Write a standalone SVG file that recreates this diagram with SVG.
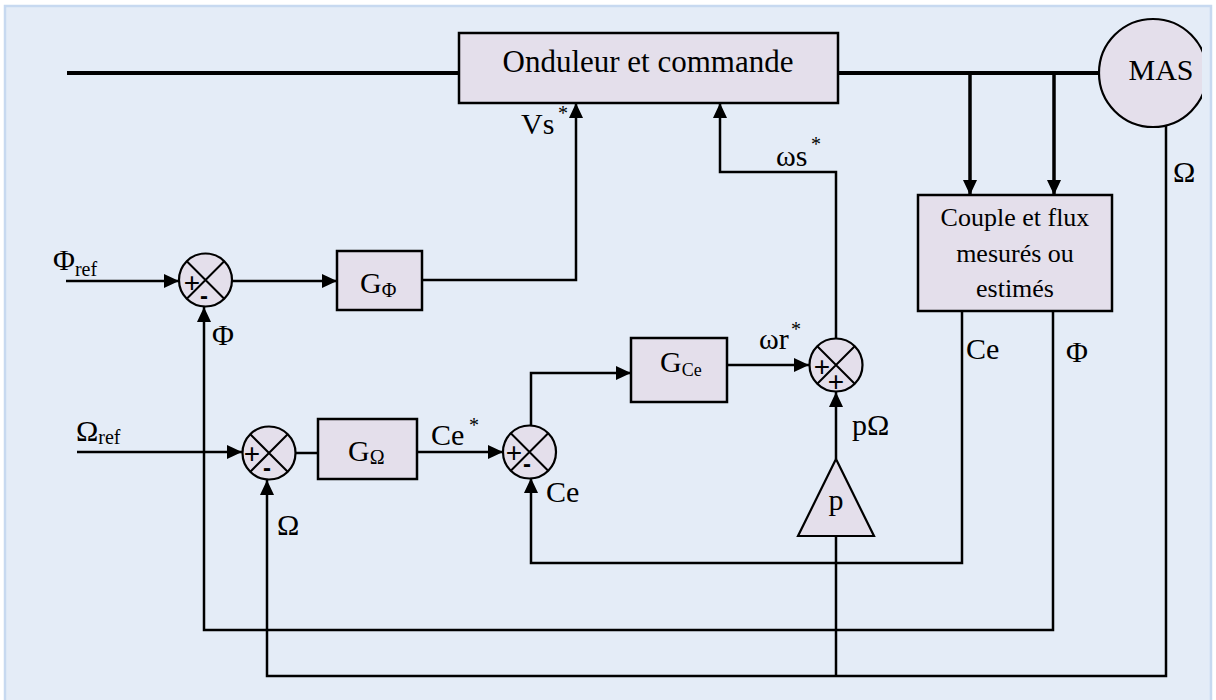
<svg xmlns="http://www.w3.org/2000/svg" width="1216" height="700" viewBox="0 0 1216 700">
<defs>
<style>
.bg{fill:#e4ecf7;stroke:#c7d9f0;stroke-width:2.5}
.box{fill:#e4dfeb;stroke:#000;stroke-width:2.5}
.sum{fill:#e4dfeb;stroke:#000;stroke-width:2.2}
.x{stroke:#000;stroke-width:2;fill:none}
.w{fill:none;stroke:#000;stroke-width:2.5}
.pw{fill:none;stroke:#000;stroke-width:4}
.t{font-family:"Liberation Serif","Times New Roman",serif;font-size:30px;fill:#000}
.s{font-family:"Liberation Serif","Times New Roman",serif;font-size:20px;fill:#000}
.sg{font-family:"Liberation Sans",Arial,sans-serif;font-size:28px;fill:#000;text-anchor:middle}
.mn{font-family:"Liberation Sans",Arial,sans-serif;font-size:24px;font-weight:bold;fill:#000;text-anchor:middle}
</style>
<marker id="ah" viewBox="0 0 15 14" refX="15" refY="7" markerWidth="15" markerHeight="14" markerUnits="userSpaceOnUse" orient="auto">
<path d="M0,0 L15,7 L0,14 Z" fill="#000"/>
</marker>
<clipPath id="clipMas"><rect x="0" y="0" width="1202" height="700"/></clipPath>
</defs>
<rect x="0" y="0" width="1216" height="700" fill="#ffffff"/>
<rect class="bg" x="5" y="6" width="1206" height="710"/>

<g id="connectors">
<path class="pw" d="M67,73 H459"/>
<path class="pw" d="M838,73 H1100"/>
<path class="w" style="stroke-width:3.5" d="M970,73 V195" marker-end="url(#ah)"/>
<path class="w" style="stroke-width:3.5" d="M1054,73 V195" marker-end="url(#ah)"/>
<path class="w" d="M66,281 H179" marker-end="url(#ah)"/>
<path class="w" d="M232,281 H337" marker-end="url(#ah)"/>
<path class="w" d="M422,280 H576 V103" marker-end="url(#ah)"/>
<path class="w" d="M836,338 V172 H720 V103" marker-end="url(#ah)"/>
<path class="w" d="M727,365 H809" marker-end="url(#ah)"/>
<path class="w" d="M836,459 V392" marker-end="url(#ah)"/>
<path class="w" d="M77,452 H242" marker-end="url(#ah)"/>
<path class="w" d="M296,453 H318"/>
<path class="w" d="M417,452 H503" marker-end="url(#ah)"/>
<path class="w" d="M531,426 V373 H631" marker-end="url(#ah)"/>
<path class="w" d="M962,311 V563 H531 V478" marker-end="url(#ah)"/>
<path class="w" d="M1053,311 V630 H204 V307" marker-end="url(#ah)"/>
<path class="w" d="M1166,126 V676 H267 V480" marker-end="url(#ah)"/>
<path class="w" d="M836,536 V676"/>
</g>

<g id="onduleur">
<rect class="box" x="459" y="33" width="379" height="70"/>
<text class="t" x="648" y="72" text-anchor="middle" style="font-size:31px">Onduleur et commande</text>
</g>

<g id="mas" clip-path="url(#clipMas)">
<circle class="sum" cx="1153" cy="73" r="54"/>
<text class="t" x="1161" y="80" text-anchor="middle">MAS</text>
</g>

<g id="couple">
<rect class="box" x="918" y="195" width="194" height="116"/>
<text class="t" x="1015" y="226" text-anchor="middle" style="font-size:26px">Couple et flux</text>
<text class="t" x="1015" y="262" text-anchor="middle" style="font-size:26px">mesurés ou</text>
<text class="t" x="1015" y="297" text-anchor="middle" style="font-size:26px">estimés</text>
</g>

<g id="g-phi">
<rect class="box" x="337" y="251" width="85" height="59"/>
<text class="t" x="360" y="293">G<tspan class="s" dy="4">Φ</tspan></text>
</g>

<g id="g-omega">
<rect class="box" x="318" y="419" width="99" height="60"/>
<text class="t" x="348" y="461">G<tspan class="s" dy="3">Ω</tspan></text>
</g>

<g id="g-ce">
<rect class="box" x="631" y="338" width="96" height="64"/>
<text class="t" x="660" y="372">G<tspan class="s" dy="4" style="font-size:18px">Ce</tspan></text>
</g>

<g id="gain-p">
<polygon class="box" points="836,459 874,536 798,536" style="stroke-width:2.2"/>
<text class="t" x="836" y="510" text-anchor="middle">p</text>
</g>

<g id="sum-phi">
<circle class="sum" cx="205.5" cy="280" r="26.5"/>
<path class="x" d="M186.8,261.3 L224.2,298.7 M224.2,261.3 L186.8,298.7"/>
<text class="sg" x="192" y="292">+</text>
<text class="mn" x="204" y="304">-</text>
</g>

<g id="sum-omega">
<circle class="sum" cx="269" cy="453" r="26.5"/>
<path class="x" d="M250.3,434.3 L287.7,471.7 M287.7,434.3 L250.3,471.7"/>
<text class="sg" x="252" y="463">+</text>
<text class="mn" x="267" y="476">-</text>
</g>

<g id="sum-ce">
<circle class="sum" cx="529.5" cy="452" r="26.5"/>
<path class="x" d="M510.8,433.3 L548.2,470.7 M548.2,433.3 L510.8,470.7"/>
<text class="sg" x="514" y="462">+</text>
<text class="mn" x="527" y="472">-</text>
</g>

<g id="sum-w">
<circle class="sum" cx="836" cy="365" r="26.5"/>
<path class="x" d="M817.3,346.3 L854.7,383.7 M854.7,346.3 L817.3,383.7"/>
<text class="sg" x="822" y="376">+</text>
<text class="sg" x="836" y="391">+</text>
</g>

<g id="labels">
<text class="t" x="53" y="270">Φ<tspan class="s" dy="6">ref</tspan></text>
<text class="t" x="76" y="441">Ω<tspan class="s" dy="3">ref</tspan></text>
<text class="t" x="212" y="345">Φ</text>
<text class="t" x="277" y="535">Ω</text>
<text class="t" x="431" y="445">Ce</text>
<text class="s" x="469" y="432">*</text>
<text class="t" x="521" y="134">Vs</text>
<text class="s" x="558" y="120">*</text>
<text class="t" x="776" y="166">ωs</text>
<text class="s" x="811" y="151">*</text>
<text class="t" x="759" y="349">ωr</text>
<text class="s" x="791" y="336">*</text>
<text class="t" x="546" y="502">Ce</text>
<text class="t" x="852" y="435">pΩ</text>
<text class="t" x="966" y="359">Ce</text>
<text class="t" x="1066" y="362">Φ</text>
<text class="t" x="1173" y="182">Ω</text>
</g>
</svg>
